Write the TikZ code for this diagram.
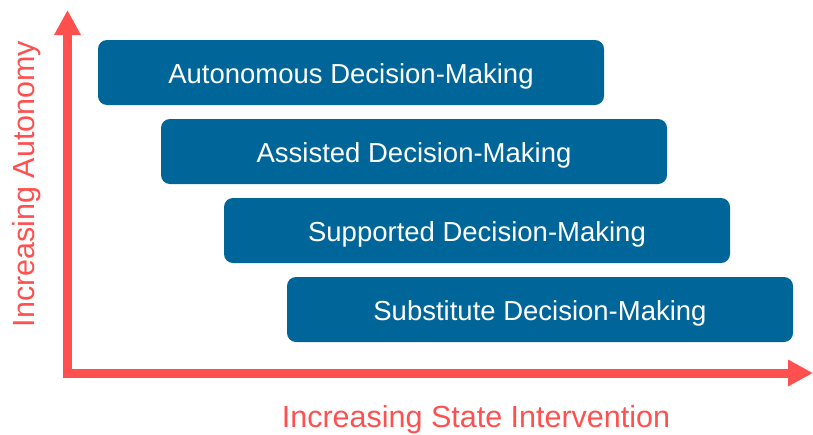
\documentclass[tikz,border=0pt]{standalone}
\usepackage{fontspec}
\setmainfont{Liberation Sans}
\usetikzlibrary{arrows.meta}
\definecolor{boxblue}{RGB}{0,102,153}
\definecolor{axisred}{RGB}{255,80,80}
\tikzset{
  dmbox/.style={fill=boxblue, draw=none, rounded corners=9pt, minimum width=506pt, minimum height=65pt, inner sep=0pt, text=white, font=\fontsize{27.5}{32}\selectfont},
  boxtext/.style={text=white, inner sep=0pt, font=\fontsize{27.5}{32}\selectfont, yshift=-3.5pt},
  axislabel/.style={text=axisred, font=\fontsize{30.5}{35}\selectfont, inner sep=0pt},
  axisline/.style={draw=axisred, line width=9pt, -{Triangle[length=25pt,width=25pt]}}
}
\begin{document}
\begin{tikzpicture}[x=1pt,y=-1pt]
\useasboundingbox (0,0) rectangle (813,434);
\coordinate (corner) at (67.5,373);
\coordinate (ytip) at (67.5,10);
\coordinate (xtip) at (813,373);
\draw[axisline] ([xshift=-4.5pt]corner) -- (xtip);
\draw[axisline] ([yshift=-4.5pt]corner) -- (ytip);
\node[dmbox] (b1) at (351,72.5) {};
\node[dmbox] (b2) at (414,151.5) {};
\node[dmbox] (b3) at (477,230.5) {};
\node[dmbox] (b4) at (540,309.5) {};
\node[boxtext] (t1) at (b1.center) {Autonomous Decision-Making};
\node[boxtext] (t2) at (b2.center) {Assisted Decision-Making};
\node[boxtext] (t3) at (b3.center) {Supported Decision-Making};
\node[boxtext] (t4) at (b4.center) {Substitute Decision-Making};
\node[axislabel, rotate=90] (ylab) at (27,184) {Increasing Autonomy};
\node[axislabel] (xlab) at (476,420) {Increasing State Intervention};
\end{tikzpicture}
\end{document}
